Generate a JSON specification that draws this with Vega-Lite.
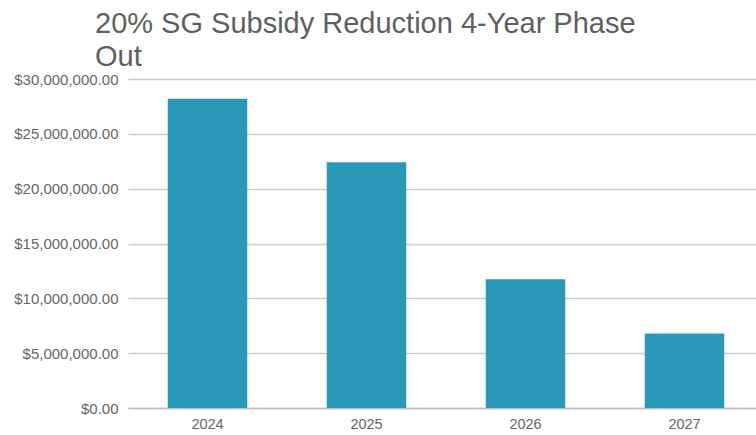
{
  "$schema": "https://vega.github.io/schema/vega-lite/v6.json",
  "width": 628,
  "height": 329,
  "autosize": {"type": "none"},
  "padding": {"left": 128, "top": 79, "right": 0, "bottom": 28},
  "background": "white",
  "title": {
    "text": ["20% SG Subsidy Reduction 4-Year Phase", "Out"],
    "anchor": "start",
    "frame": "group",
    "dx": -33,
    "offset": 0,
    "font": "Liberation Sans",
    "fontSize": 29,
    "fontWeight": "normal",
    "color": "#5f5f5f",
    "lineHeight": 33
  },
  "data": {
    "values": [
      {"year": "2024", "amount": 28200000},
      {"year": "2025", "amount": 22400000},
      {"year": "2026", "amount": 11750000},
      {"year": "2027", "amount": 6800000}
    ]
  },
  "mark": {"type": "bar", "color": "#2a99b7"},
  "encoding": {
    "x": {
      "field": "year",
      "type": "nominal",
      "scale": {"range": [0, 636], "paddingInner": 0.5, "paddingOuter": 0.25},
      "axis": {
        "title": null,
        "labelAngle": 0,
        "ticks": false,
        "domainColor": "#bdbdbd",
        "domainWidth": 1.5,
        "labelFont": "Liberation Sans",
        "labelFontSize": 14.5,
        "labelColor": "#666666",
        "labelPadding": 9
      }
    },
    "y": {
      "field": "amount",
      "type": "quantitative",
      "scale": {"domain": [0, 30000000], "nice": false},
      "axis": {
        "title": null,
        "values": [0, 5000000, 10000000, 15000000, 20000000, 25000000, 30000000],
        "format": "$,.2f",
        "ticks": false,
        "domain": false,
        "gridColor": "#cccccc",
        "gridWidth": 1.5,
        "labelFont": "Liberation Sans",
        "labelFontSize": 15,
        "labelColor": "#666666",
        "labelPadding": 10
      }
    }
  },
  "config": {"view": {"stroke": null}}
}
